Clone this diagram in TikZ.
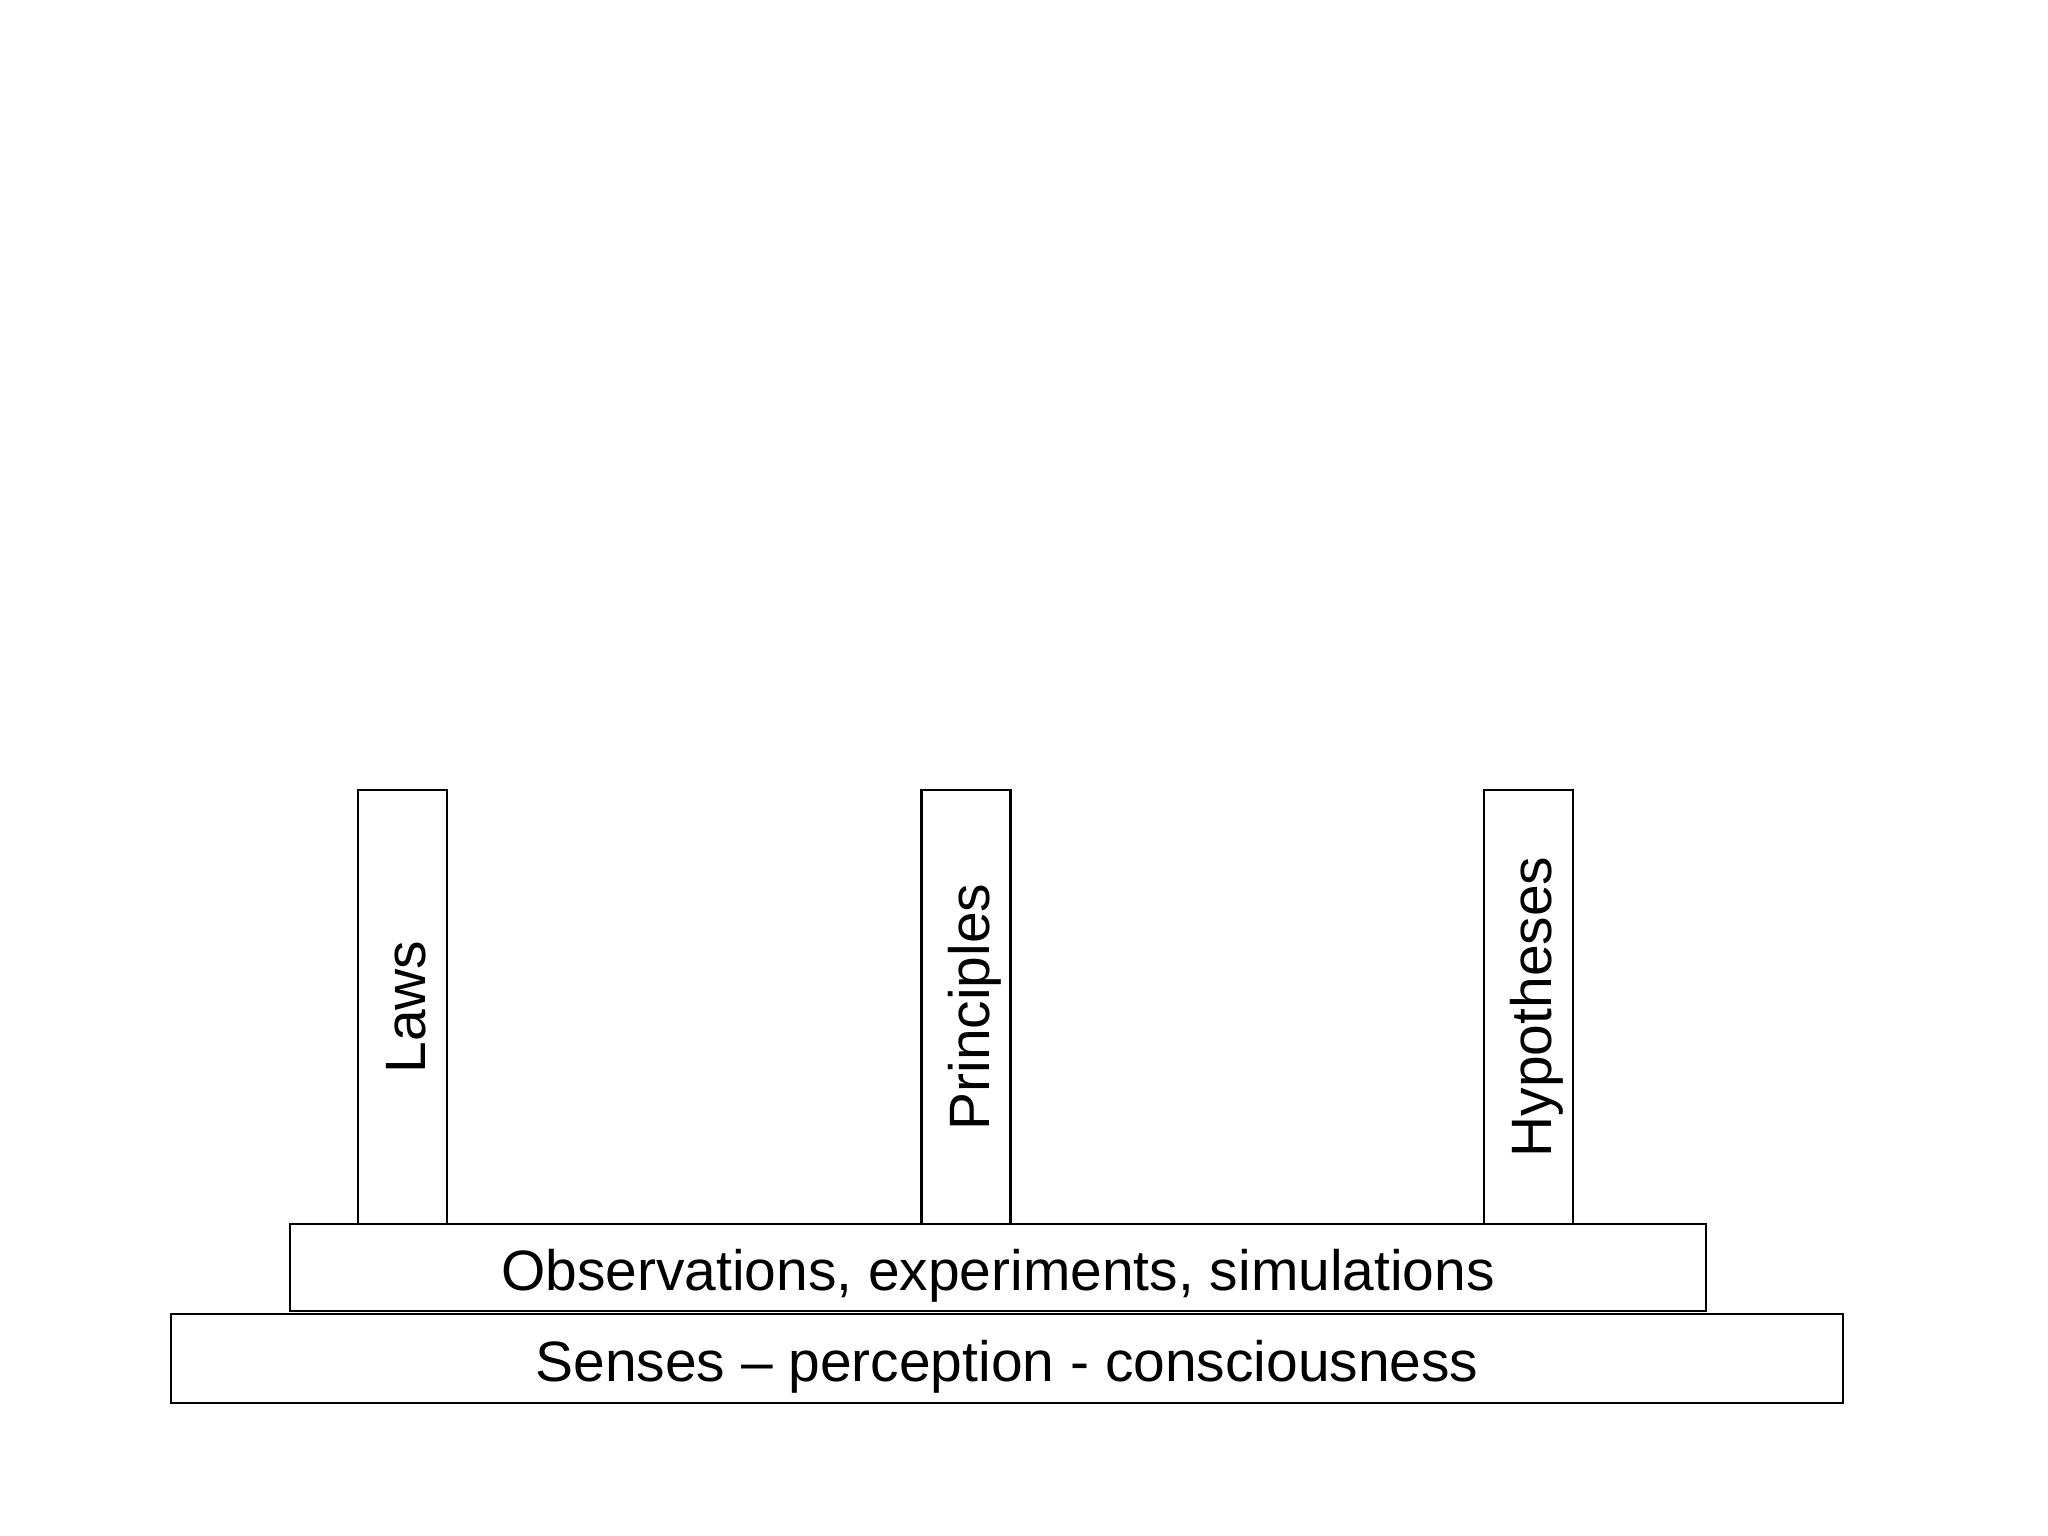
\documentclass[tikz,border=0pt]{standalone}
\usepackage{fontspec}
\setmainfont{Liberation Sans}
\tikzset{%
    bas/.style={rectangle, draw, line width=0.6pt, inner sep=0pt, font=\fontsize{16.2}{19}\selectfont,
        text height=13.3pt, text depth=0pt},
    pil/.style={bas, rotate=90, minimum width=4.34cm, minimum height=0.89cm},
}

\begin{document}
\begin{tikzpicture}
    \useasboundingbox (0,0) rectangle (20.48,15.36);
    \node [bas, minimum width=16.72cm, minimum height=0.89cm] (sen) at (10.07,1.775) {Senses – perception - consciousness};
    \node [bas, minimum width=14.16cm, minimum height=0.87cm] (obs) at (9.98,2.685) {Observations, experiments, simulations};
    \node [pil] (law) at (4.025,5.29) {Laws};
    \node [pil] (pri) at (9.66,5.29) {Principles};
    \node [pil] (hyp) at (15.285,5.29) {Hypotheses};
\end{tikzpicture}
\end{document}
